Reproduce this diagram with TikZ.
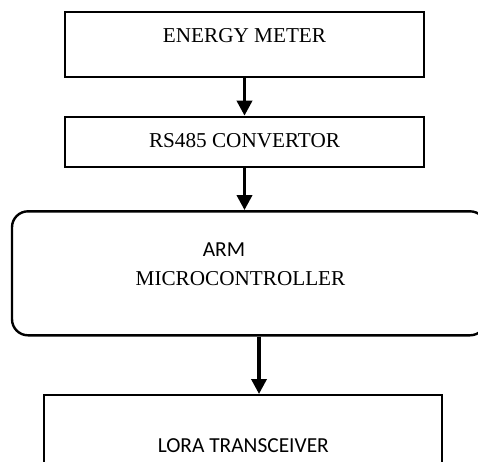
\documentclass[tikz,border=0pt]{standalone}
\usepackage{fontspec}
\setmainfont{Liberation Serif}
\newfontfamily\calfont{Carlito}
\usetikzlibrary{arrows.meta}
\tikzset{
  blockbox/.style={draw=black, line width=2pt, rectangle, inner sep=0pt},
  roundbox/.style={draw=black, line width=2.4pt, rectangle, rounded corners=16pt, inner sep=0pt},
  serlabel/.style={font=\fontsize{21.2}{25}\selectfont, inner sep=0pt},
  sanslabel/.style={font=\calfont\fontsize{21.4}{25}\selectfont, inner sep=0pt},
  flow/.style={line width=3.5pt, -{Triangle[length=15pt,width=15pt]}, shorten >=0pt}
}
\begin{document}
\begin{tikzpicture}[x=1pt,y=-1pt]
\path[use as bounding box] (0,0) rectangle (478,461);
\clip (0,0) rectangle (478,461);
% blocks
\node[blockbox, minimum width=359pt, minimum height=64.5pt] (em) at (244.5,44.5) {};
\node[serlabel] (emt) at (244.5,36) {ENERGY METER};
\node[blockbox, minimum width=359pt, minimum height=50pt] (rs) at (244.5,141.7) {};
\node[serlabel] (rst) at (244.5,140.5) {RS485 CONVERTOR};
\node[roundbox, minimum width=474pt, minimum height=124pt] (mc) at (249,273.3) {};
\node[sanslabel] (arm) at (224,250) {ARM};
\node[serlabel] (mct) at (240.5,278.5) {MICROCONTROLLER};
\node[blockbox, minimum width=398pt, minimum height=110pt] (lora) at (243,450) {};
\node[sanslabel] (lorat) at (243.3,446) {LORA TRANSCEIVER};
% connectors
\coordinate (c3) at (259,0);
\draw[flow] (em.south) -- (rs.north);
\draw[flow] (rs.south) -- (rs.south |- mc.north);
\draw[flow] (mc.south -| c3) -- (lora.north -| c3);
\end{tikzpicture}
\end{document}
